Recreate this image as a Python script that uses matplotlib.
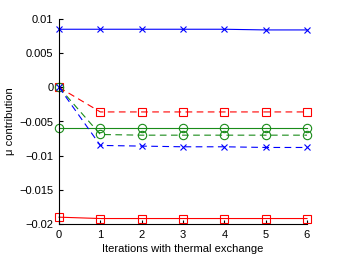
import matplotlib
matplotlib.use("Agg")
import matplotlib.pyplot as plt

plt.rcParams['font.family'] = ['Liberation Sans', 'DejaVu Sans']

iterations = [0, 1, 2, 3, 4, 5, 6]
blue_solid = [0.0085, 0.0085, 0.0085, 0.0085, 0.0085, 0.0084, 0.0084]
blue_dashed = [0.0, -0.0085, -0.0086, -0.0087, -0.0087, -0.0088, -0.0088]
red_dashed = [0.0, -0.0036, -0.0036, -0.0036, -0.0036, -0.0036, -0.0036]
red_solid = [-0.0190, -0.0192, -0.0192, -0.0192, -0.0192, -0.0192, -0.0192]
green_solid = [-0.0060, -0.0060, -0.0060, -0.0060, -0.0060, -0.0060, -0.0060]
green_dashed = [0.0, -0.0069, -0.0070, -0.0070, -0.0070, -0.0070, -0.0070]

yticks = [-0.02, -0.015, -0.01, -0.005, 0, 0.005, 0.01]
ytick_labels = ['\u22120.02', '\u22120.015', '\u22120.01', '\u22120.005', '0', '0.005', '0.01']

fig = plt.figure(figsize=(3.38, 2.56), dpi=100)
ax = fig.add_axes([59/338, 32/256, 248/338, 205/256])

green = '#1a8c1a'
dash = (0, (6, 4))
common = dict(lw=0.8, clip_on=False, markerfacecolor='none', markersize=6, markeredgewidth=0.8)

ax.plot(iterations, blue_solid, color='b', ls='-', marker='x', markersize=5, lw=0.8, clip_on=False, markeredgewidth=0.8)
ax.plot(iterations, red_solid, color='r', ls='-', marker='s', **common)
ax.plot(iterations, green_solid, color=green, ls='-', marker='o', **common)
ax.plot(iterations, red_dashed, color='r', ls=dash, marker='s', **common)
ax.plot(iterations, green_dashed, color=green, ls=dash, marker='o', **common)
ax.plot(iterations, blue_dashed, color='b', ls=dash, marker='x', markersize=5, lw=0.8, clip_on=False, markeredgewidth=0.8)

ax.set_xlim(0, 6)
ax.set_ylim(-0.02, 0.01)
ax.set_xticks(iterations)
ax.set_yticks(yticks)
ax.set_yticklabels(ytick_labels)
ax.spines['top'].set_visible(False)
ax.spines['right'].set_visible(False)
ax.spines['left'].set_linewidth(0.8)
ax.spines['bottom'].set_linewidth(0.8)
ax.tick_params(direction='in', length=3, width=0.8, labelsize=8, pad=4)
ax.set_xlabel('Iterations with thermal exchange', fontsize=8, labelpad=3)
ax.set_ylabel('\u03bc contribution', fontsize=8, labelpad=3)

fig.savefig('out.png', dpi=100)
